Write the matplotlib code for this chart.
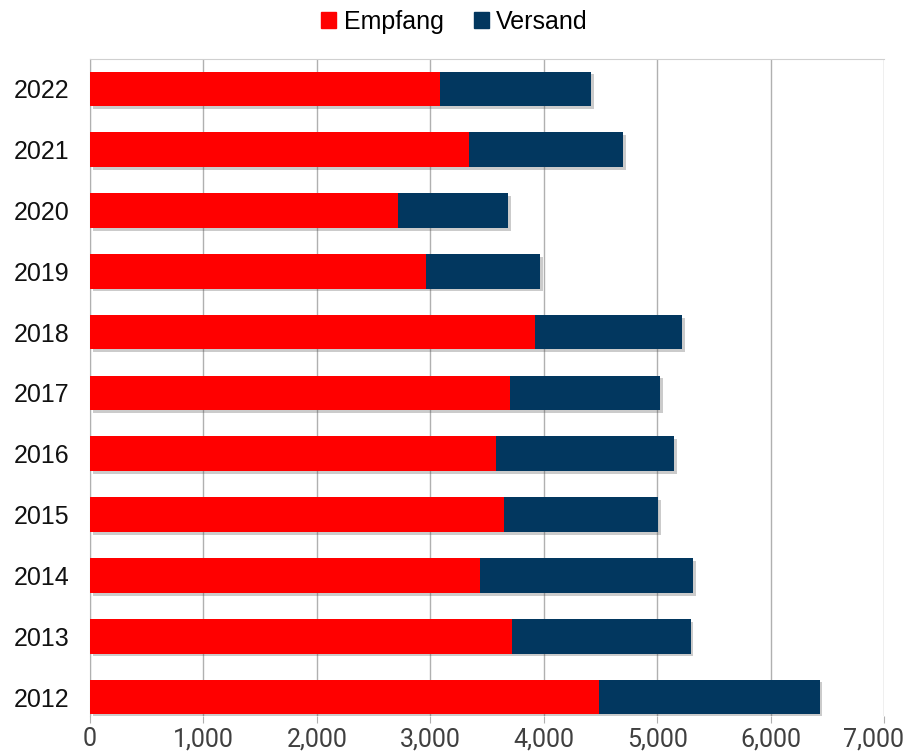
import numpy as np
import matplotlib
matplotlib.use("Agg")
import matplotlib.pyplot as plt
import matplotlib.patheffects as pe
import matplotlib.transforms as mtrans
from matplotlib.patches import Patch

# Data
years = ["2012", "2013", "2014", "2015", "2016", "2017", "2018", "2019", "2020", "2021", "2022"]
empfang = [4484, 3724, 3442, 3653, 3580, 3706, 3920, 2958, 2711, 3345, 3090]
versand = [1948, 1572, 1878, 1353, 1570, 1317, 1297, 1012, 977, 1358, 1325]
xticks = [0, 1000, 2000, 3000, 4000, 5000, 6000, 7000]

red = "#FF0000"
navy = "#02375F"
grid = "#B0B0B0"

fig = plt.figure(figsize=(9.09, 7.52), dpi=100)
ax = fig.add_axes([0.099, 0.048, 0.8735, 0.8735])

y = np.arange(len(years))
shadow = [pe.SimplePatchShadow(offset=(2, -2), alpha=0.3, shadow_rgbFace="#555555"), pe.Normal()]

b1 = ax.barh(y, empfang, height=0.57, color=red, zorder=3)
b2 = ax.barh(y, versand, left=empfang, height=0.57, color=navy, zorder=3)
for r1, r2 in zip(b1, b2):
    r1.set_path_effects(shadow)
    r2.set_path_effects(shadow)

ax.set_xlim(0, 7000)
ax.set_ylim(-0.31, 10.49)
ax.set_xticks(xticks)
ax.set_xticklabels([f"{v:,}" for v in xticks], fontsize=18, color="#404040",
                   family=["Roboto", "DejaVu Sans"])
ax.set_yticks(y)
ax.set_yticklabels(years, fontsize=18, color="#111111", family=["Liberation Sans", "DejaVu Sans"])
ax.tick_params(axis="y", length=0, pad=15)
ax.tick_params(axis="x", length=5, color=grid, pad=3)

# last label is pushed inwards so it fits in the figure
last = ax.get_xticklabels()[-1]
last.set_transform(last.get_transform() + mtrans.ScaledTranslation(-11 / 100, 0, fig.dpi_scale_trans))

ax.grid(axis="x", color=grid, linewidth=1, zorder=0)
for s in ["right", "bottom"]:
    ax.spines[s].set_visible(False)
ax.spines["left"].set_color(grid)
ax.spines["top"].set_color("#D0D0D0")

handles = [Patch(color=red, label="Empfang"), Patch(color=navy, label="Versand")]
fig.legend(handles=handles, loc="upper center", bbox_to_anchor=(0.5, 1.017), ncol=2,
           frameon=False, handlelength=0.6, handleheight=0.6, handletextpad=0.3,
           columnspacing=1.2, prop={"family": ["Liberation Sans", "DejaVu Sans"], "size": 18})

fig.savefig("out.png", dpi=100)
